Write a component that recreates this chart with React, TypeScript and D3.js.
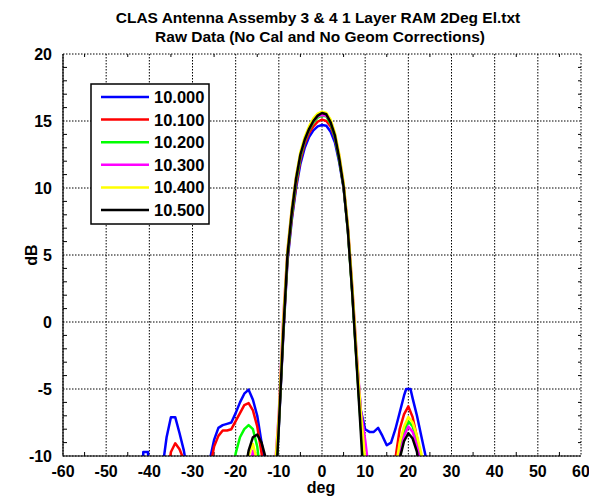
import React from 'react';
import * as d3 from 'd3';

const title1 = 'CLAS Antenna Assemby 3 & 4 1 Layer RAM 2Deg El.txt';
const title2 = 'Raw Data (No Cal and No Geom Corrections)';
const xLabel = 'deg';
const yLabel = 'dB';
const xTicks = [-60, -50, -40, -30, -20, -10, 0, 10, 20, 30, 40, 50, 60];
const yTicks = [-10, -5, 0, 5, 10, 15, 20];
const seriesNames = ['10.000', '10.100', '10.200', '10.300', '10.400', '10.500'];
const seriesColors = ['#0000ff', '#ff0000', '#00ff00', '#ff00ff', '#ffff00', '#000000'];

const f10000: [number, number][] = [
  [-42, -12], [-41.6, -12], [-41.4, -9.7], [-40.3, -9.7], [-40.1, -12], [-37, -11], [-36, -8.6], [-35, -7.1],
  [-34, -7.1], [-33, -8.3], [-32, -9.6], [-31, -11.5], [-27, -12], [-26, -10.3], [-25, -8.8], [-24, -7.9],
  [-23, -7.7], [-22, -7.6], [-21, -7.5], [-20, -6.8], [-19, -6.0], [-18, -5.35], [-17, -5.05], [-16, -5.8],
  [-15, -7.0], [-14, -9.0], [-13, -11.2], [-12, -13], [-11, -13], [-10, -7.8], [-9, -1.2], [-8, 4.5],
  [-7, 7.6], [-6, 10.0], [-5, 11.8], [-4, 13.0], [-3, 13.8], [-2, 14.3], [-1, 14.6], [0, 14.7], [1, 14.65],
  [2, 14.2], [3, 13.4], [4, 11.9], [5, 10.0], [6, 6.9], [7, 2.4], [8, -2.6], [9, -6.6], [10, -8.0], [11, -8.2],
  [12, -8.2], [13, -7.9], [14, -8.5], [15, -9.2], [16, -9.0], [17, -8.0], [18, -6.75], [19, -5.5], [19.5, -5.0],
  [20.5, -5.0], [21, -5.7], [22, -7.0], [23, -8.5], [24, -10.0], [25, -12], [30, -12],
];
const f10100: [number, number][] = [
  [-37, -12], [-36, -12], [-35, -9.7], [-34, -9.05], [-33, -9.5], [-32, -10.3], [-31, -12], [-27, -12],
  [-26, -11], [-25, -9.3], [-24, -8.5], [-23, -8.1], [-22, -8.1], [-21, -8.0], [-20, -7.4], [-19, -6.8],
  [-18, -6.2], [-17, -6.05], [-16, -6.6], [-15, -7.8], [-14, -9.8], [-13, -12], [-11, -13], [-10, -7.6],
  [-9, -1.0], [-8, 4.7], [-7, 7.8], [-6, 10.2], [-5, 12.1], [-4, 13.3], [-3, 14.1], [-2, 14.6], [-1, 14.95],
  [0, 15.1], [1, 15.0], [2, 14.6], [3, 13.7], [4, 12.1], [5, 10.1], [6, 6.9], [7, 2.3], [8, -2.8], [9, -7.5],
  [10, -11.5], [11, -12], [16, -12], [17, -10.2], [18, -8.0], [19, -6.9], [20, -6.3], [21, -7.1], [22, -8.6],
  [23, -10.3], [24, -12], [30, -12],
];
const f10200: [number, number][] = [
  [-22, -12], [-21, -12], [-20, -9.8], [-19, -8.6], [-18, -8.0], [-17, -7.7], [-16, -8.0], [-15, -9.3],
  [-14, -12], [-11, -13.5], [-10, -7.6], [-9, -0.8], [-8, 4.9], [-7, 8.0], [-6, 10.5], [-5, 12.3], [-4, 13.5],
  [-3, 14.3], [-2, 14.9], [-1, 15.25], [0, 15.4], [1, 15.35], [2, 14.8], [3, 13.8], [4, 12.1], [5, 10.1],
  [6, 6.8], [7, 2.2], [8, -2.9], [9, -7.8], [10, -12], [17, -12], [18, -9.6], [19, -8.2], [20, -7.4],
  [21, -7.8], [22, -8.9], [23, -10.3], [24, -12],
];
const f10300: [number, number][] = [
  [-18, -12], [-17, -12], [-16, -9.6], [-15, -12], [-11, -11.3], [-10, -6.8], [-9, 0.2], [-8, 5.3], [-7, 8.4],
  [-6, 10.8], [-5, 12.5], [-4, 13.6], [-3, 14.4], [-2, 15.0], [-1, 15.35], [0, 15.45], [1, 15.4], [2, 15.0],
  [3, 14.0], [4, 12.4], [5, 10.3], [6, 7.1], [7, 2.7], [8, -2.2], [9, -6.6], [10, -8.8], [11, -11.5], [17, -12],
  [18, -10], [19, -8.5], [20, -7.8], [21, -8.2], [22, -9.2], [23, -10.8], [24, -12],
];
const f10400: [number, number][] = [
  [-19, -12], [-18, -12], [-17, -10], [-16, -9.1], [-15, -10.4], [-14, -12], [-12, -12], [-11, -11.5],
  [-10, -7.0], [-9, 0.0], [-8, 5.4], [-7, 8.5], [-6, 10.9], [-5, 12.7], [-4, 13.8], [-3, 14.6], [-2, 15.2],
  [-1, 15.55], [0, 15.7], [1, 15.6], [2, 15.1], [3, 14.1], [4, 12.5], [5, 10.4], [6, 7.2], [7, 2.8], [8, -2.3],
  [9, -6.8], [10, -10.3], [11, -14], [16, -12], [17, -11], [18, -9.0], [19, -7.8], [20, -7.1], [21, -7.5],
  [22, -8.5], [23, -9.8], [24, -11.5],
];
const f10500: [number, number][] = [
  [-19, -12], [-18, -11.5], [-17, -9.6], [-16, -8.6], [-15, -8.4], [-14, -9.0], [-13, -10.2], [-12, -12],
  [-11, -14], [-10, -7.8], [-9, -0.9], [-8, 5.0], [-7, 8.2], [-6, 10.7], [-5, 12.5], [-4, 13.6], [-3, 14.4],
  [-2, 15.0], [-1, 15.4], [0, 15.6], [1, 15.5], [2, 14.9], [3, 13.9], [4, 12.2], [5, 10.1], [6, 6.8], [7, 2.2],
  [8, -3.0], [9, -8.3], [10, -14], [17, -12], [18, -10.2], [19, -8.9], [20, -8.3], [21, -8.7], [22, -9.7],
  [23, -12],
];
const seriesData = [f10000, f10100, f10200, f10300, f10400, f10500];

const W = 589;
const H = 497;
const left = 63;
const right = 581;
const top = 54;
const bottom = 456;
const font = 'Arimo, "Liberation Sans", Arial, sans-serif';

export default function App() {
  const x = d3.scaleLinear().domain([-60, 60]).range([left, right]);
  const y = d3.scaleLinear().domain([-10, 20]).range([bottom, top]);
  const line = d3
    .line<[number, number]>()
    .x((d) => x(d[0]))
    .y((d) => y(d[1]));
  const xMinor = d3.range(-55, 60, 10);
  const yMinor = d3.range(-10, 21, 1).filter((v) => v % 5 !== 0);

  const legX = 91;
  const legY = 84;
  const rowY = (i: number) => 97 + i * 22.6;

  return (
    <svg
      width={W}
      height={H}
      style={{ position: 'absolute', left: 0, top: 0, background: '#fff' }}
      fontFamily={font}
      fontWeight="bold"
    >
      <rect x={0} y={0} width={W} height={H} fill="#fff" />
      <defs>
        <clipPath id="plotclip">
          <rect x={left} y={top} width={right - left} height={bottom - top} />
        </clipPath>
      </defs>
      <text x={318} y={23} textAnchor="middle" fontSize={15.5}>
        {title1}
      </text>
      <text x={320} y={42} textAnchor="middle" fontSize={15.5}>
        {title2}
      </text>

      {/* grid */}
      {xTicks.map((t) => (
        <line key={'gx' + t} x1={x(t)} x2={x(t)} y1={top} y2={bottom} stroke="#000" strokeWidth={1} strokeDasharray="1.5,1.5" />
      ))}
      {yTicks.map((t) => (
        <line key={'gy' + t} x1={left} x2={right} y1={y(t)} y2={y(t)} stroke="#000" strokeWidth={1} strokeDasharray="1.5,1.5" />
      ))}
      {/* minor ticks */}
      {xMinor.map((t) => (
        <line key={'mx' + t} x1={x(t)} x2={x(t)} y1={bottom} y2={bottom - 4} stroke="#000" strokeWidth={1} />
      ))}
      {xMinor.map((t) => (
        <line key={'mxt' + t} x1={x(t)} x2={x(t)} y1={top} y2={top + 3} stroke="#000" strokeWidth={1} />
      ))}
      {yMinor.map((t) => (
        <line key={'my' + t} x1={left} x2={left + 4} y1={y(t)} y2={y(t)} stroke="#000" strokeWidth={1} />
      ))}
      {yMinor.map((t) => (
        <line key={'myr' + t} x1={right} x2={right - 3} y1={y(t)} y2={y(t)} stroke="#000" strokeWidth={1} />
      ))}

      {/* series */}
      <g clipPath="url(#plotclip)">
        {seriesData.map((s, i) => (
          <path key={'s' + i} d={line(s) || ''} fill="none" stroke={seriesColors[i]} strokeWidth={2.5} strokeLinejoin="round" />
        ))}
      </g>

      {/* axes */}
      <line x1={left} x2={left} y1={top} y2={bottom + 0.5} stroke="#000" strokeWidth={1.2} />
      <line x1={left} x2={right} y1={bottom} y2={bottom} stroke="#000" strokeWidth={1.2} />

      {/* tick labels */}
      {xTicks.map((t) => (
        <text key={'lx' + t} x={x(t)} y={bottom + 21} textAnchor="middle" fontSize={16}>
          {t}
        </text>
      ))}
      {yTicks.map((t) => (
        <text key={'ly' + t} x={52} y={y(t) + 6} textAnchor="end" fontSize={16}>
          {t}
        </text>
      ))}
      <text x={321} y={493} textAnchor="middle" fontSize={16}>
        {xLabel}
      </text>
      <text transform={`translate(37, ${y(5)}) rotate(-90)`} textAnchor="middle" fontSize={16}>
        {yLabel}
      </text>

      {/* legend */}
      <rect x={legX} y={legY} width={118} height={140} fill="#fff" stroke="#000" strokeWidth={1.5} />
      {seriesNames.map((n, i) => (
        <g key={'lg' + i}>
          <line x1={101} x2={149} y1={rowY(i)} y2={rowY(i)} stroke={seriesColors[i]} strokeWidth={2.5} />
          <text x={154} y={rowY(i) + 6} fontSize={16.5}>
            {n}
          </text>
        </g>
      ))}
    </svg>
  );
}
